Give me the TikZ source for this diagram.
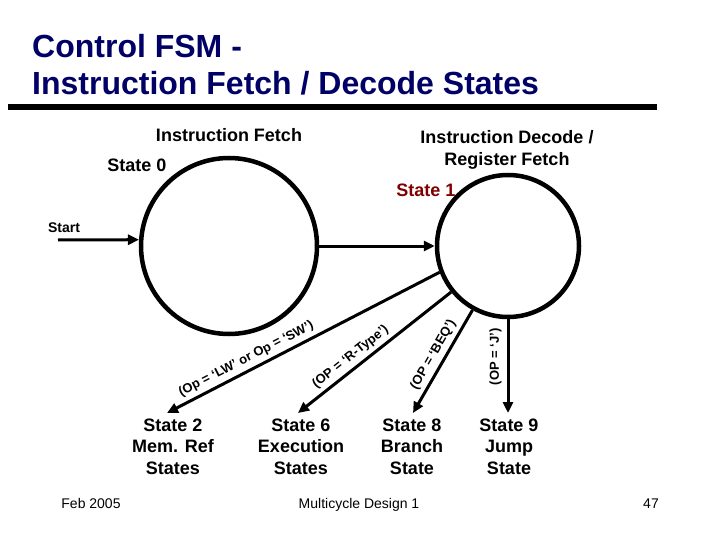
\documentclass[tikz,border=0pt]{standalone}
\usepackage{fontspec}
\setmainfont{Liberation Sans}
\usetikzlibrary{arrows.meta}
\definecolor{titleblue}{RGB}{0,0,102}
\definecolor{statered}{RGB}{128,0,0}
\begin{document}
\begin{tikzpicture}[x=1pt,y=-1pt,
 statecirc/.style={circle,draw,line width=4.5pt,inner sep=0pt},
 trans/.style={line width=3pt,-{Triangle[length=11pt,width=10pt]}},
 lbl/.style={font=\fontsize{18}{21.5}\selectfont\bfseries,align=center,inner sep=0pt},
 cond/.style={font=\fontsize{13}{15}\selectfont\bfseries,above,inner sep=4pt},
 foot/.style={font=\fontsize{14}{16}\selectfont,inner sep=0pt,anchor=base},
 titletext/.style={font=\fontsize{32}{38}\selectfont\bfseries,text=titleblue,inner sep=0pt,anchor=base west}]
\useasboundingbox (0,0) rectangle (720,540);
\fill[white] (0,0) rectangle (720,540);
% title
\node[titletext] (t1) at (32,58) {Control FSM -};
\node[titletext] (t2) at (32,95) {Instruction Fetch / Decode States};
\fill[black] (8,104) rectangle (657,110);
% states
\node[statecirc,minimum size=176pt] (c0) at (229,246) {};
\node[statecirc,minimum size=142pt] (c1) at (508,246) {};
\node[lbl] (ifetch) at (229,135) {Instruction Fetch};
\node[lbl] (idec) at (507,150) {Instruction Decode /\\Register Fetch};
\node[lbl] (s0) at (137,165) {State 0};
\node[lbl,text=statered] (s1) at (426,190) {State 1};
\node[font=\fontsize{14}{16}\selectfont\bfseries,inner sep=0pt] (start) at (64,228) {Start};
% target labels
\node[lbl] (n2) at (173,446.5) {State 2\\Mem. Ref\\States};
\node[lbl] (n6) at (301,446.5) {State 6\\Execution\\States};
\node[lbl] (n8) at (412,446.5) {State 8\\Branch\\State};
\node[lbl] (n9) at (509,446.5) {State 9\\Jump\\State};
% connectors
\coordinate (st) at (58,240);
\coordinate (e2) at (167,413);
\coordinate (e6) at (298,413);
\coordinate (e8) at (413,413);
\coordinate (e9) at (508,413);
\draw[trans] (st) -- (c0.176);
\draw[trans] (c0.east) -- (c1.west);
\draw[trans] (c1.201) -- node[cond,sloped,pos=0.69] {(Op = ‘LW’ or Op = ‘SW’)} (e2);
\draw[trans] (c1.219) -- node[cond,sloped,pos=0.61] {(OP = ‘R-Type’)} (e6);
\draw[trans] (c1.241) -- node[cond,sloped,pos=0.49] {(OP = ‘BEQ’)} (e8);
\draw[trans] (c1.south) -- node[cond,rotate=90,pos=0.4,inner sep=5pt] {(OP = ‘J’)} (e9);
% footer
\node[foot] (date) at (91,508) {Feb 2005};
\node[foot] (mid) at (359,508) {Multicycle Design 1};
\node[foot] (pg) at (651,508) {47};
\end{tikzpicture}
\end{document}
